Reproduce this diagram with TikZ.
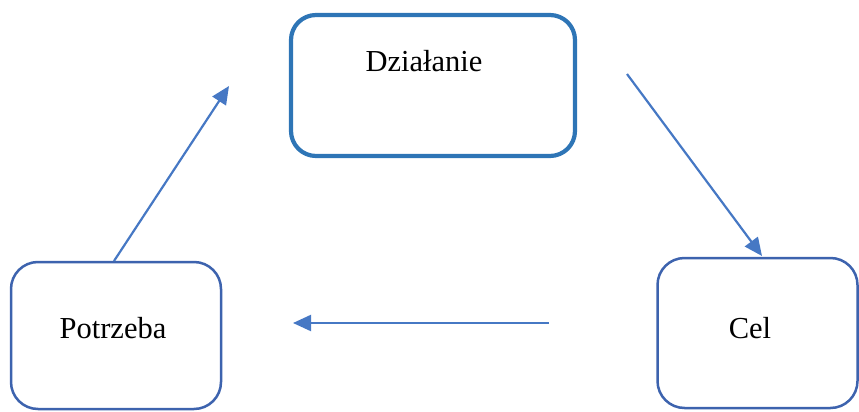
\documentclass[tikz,border=0pt]{standalone}
\usepackage{fontspec}
\setmainfont{Liberation Serif}
\usetikzlibrary{arrows.meta}
\definecolor{topblue}{HTML}{2E75B6}
\definecolor{boxblue}{HTML}{3D63AE}
\definecolor{arrowblue}{HTML}{4678C4}
\tikzset{
  box/.style={draw=boxblue, line width=2.5pt, rounded corners=27pt, inner sep=0pt},
  topbox/.style={draw=topblue, line width=4.2pt, rounded corners=25pt, inner sep=0pt},
  lbl/.style={font=\fontsize{30.5}{36}\selectfont, inner sep=0pt, anchor=base},
  conn/.style={draw=arrowblue, line width=2.2pt, -{Triangle[length=18pt,width=16pt]}}
}
\begin{document}
\begin{tikzpicture}[x=1pt,y=-1pt]
\useasboundingbox (0,0) rectangle (859,412);
\node[topbox, minimum width=284pt, minimum height=141pt] (dzial) at (433,85.5) {};
\node[lbl] (tdzial) at (424,71) {Działanie};
\node[box, minimum width=210pt, minimum height=147pt] (potrz) at (116,335.5) {};
\node[lbl] (tpotrz) at (113,338) {Potrzeba};
\node[box, minimum width=200pt, minimum height=150pt] (cel) at (757.5,333) {};
\node[lbl] (tcel) at (750,338) {Cel};
\coordinate (a1s) at (114,261);
\coordinate (a1e) at (229,86);
\coordinate (a2s) at (627,74);
\coordinate (a2e) at (762,256);
\coordinate (a3s) at (549,323);
\coordinate (a3e) at (293,323);
\draw[conn] (a1s) -- (a1e);
\draw[conn] (a2s) -- (a2e);
\draw[conn] (a3s) -- (a3e);
\end{tikzpicture}
\end{document}
